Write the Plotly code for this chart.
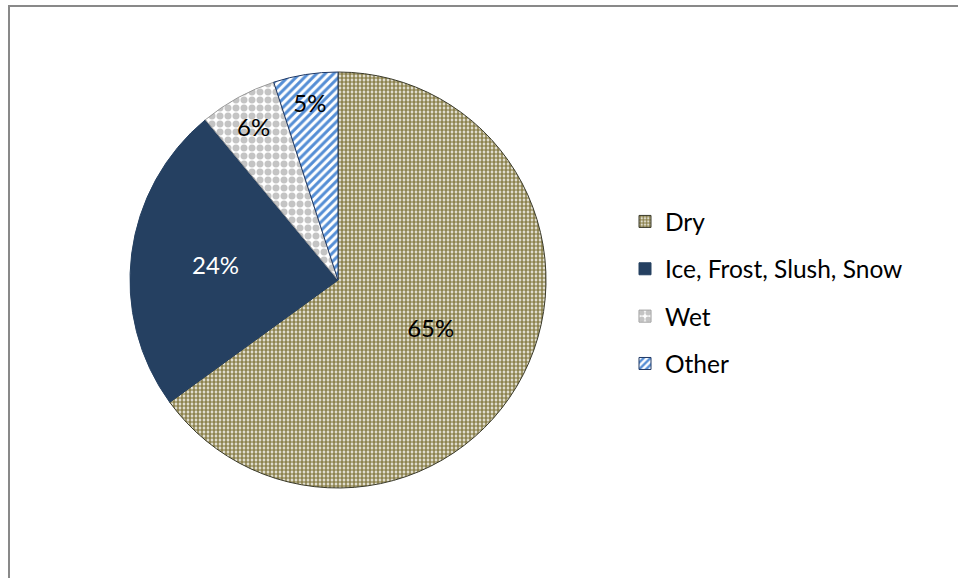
import plotly.graph_objects as go

labels = ["Dry", "Ice, Frost, Slush, Snow", "Wet", "Other"]
values = [65, 24, 6, 5]
text_colors = ["#000000", "#ffffff", "#000000", "#000000"]

fg_colors = ["#8E8450", "#254061", "#C4C4C4", "#558ED5"]
bg_colors = ["#ffffff", "#254061", "#ffffff", "#ffffff"]
shapes_ = [".", "", ".", "/"]
sizes = [4, 8, 8, 6]
solid = [0.7, 0.5, 0.6, 0.5]
line_colors = ["#3a3a2a", "#254061", "#9a9a9a", "#1f3864"]

FONT = "Lato, Carlito, Calibri, sans-serif"

fig = go.Figure()
fig.add_trace(go.Pie(
    labels=labels, values=values, sort=False, direction="clockwise", rotation=0,
    textinfo="percent", texttemplate="%{percent:.0%}", textposition="inside",
    insidetextorientation="horizontal",
    textfont=dict(family=FONT, size=24, color=text_colors),
    marker=dict(colors=bg_colors,
                line=dict(color=line_colors, width=1),
                pattern=dict(shape=shapes_, fgcolor=fg_colors, bgcolor=bg_colors,
                             size=sizes, solidity=solid, fillmode="replace")),
    domain=dict(x=[130/958, 546/958], y=[1-488/578, 1-72/578]),
    showlegend=False, hoverinfo="label+percent",
))

# legend entries (empty bar traces carrying each slice's fill)
for i, lab in enumerate(labels):
    fig.add_trace(go.Bar(
        x=[None], y=[None], name=lab, legendgroup=f"g{i}",
        marker=dict(color=bg_colors[i], line=dict(color=line_colors[i], width=1),
                    pattern=dict(shape=shapes_[i], fgcolor=fg_colors[i], bgcolor=bg_colors[i],
                                 size=sizes[i], solidity=solid[i], fillmode="replace")),
    ))

fig.update_layout(
    width=958, height=578,
    margin=dict(l=0, r=0, t=0, b=0),
    paper_bgcolor="#ffffff", plot_bgcolor="#ffffff",
    xaxis=dict(visible=False), yaxis=dict(visible=False),
    showlegend=True,
    legend=dict(x=625/958, y=1-199/578, xanchor="left", yanchor="top",
                font=dict(family=FONT, size=24.5, color="#000000"),
                tracegroupgap=12.5, bgcolor="rgba(0,0,0,0)", itemclick=False),
    shapes=[dict(type="rect", xref="paper", yref="paper",
                 x0=9/958, x1=1.01, y0=-0.01, y1=1-6/578,
                 line=dict(color="#898989", width=2), fillcolor="rgba(0,0,0,0)")],
)

fig.write_html("out.html", config={"displayModeBar": False},
               post_script="document.body.style.margin='0px';")
